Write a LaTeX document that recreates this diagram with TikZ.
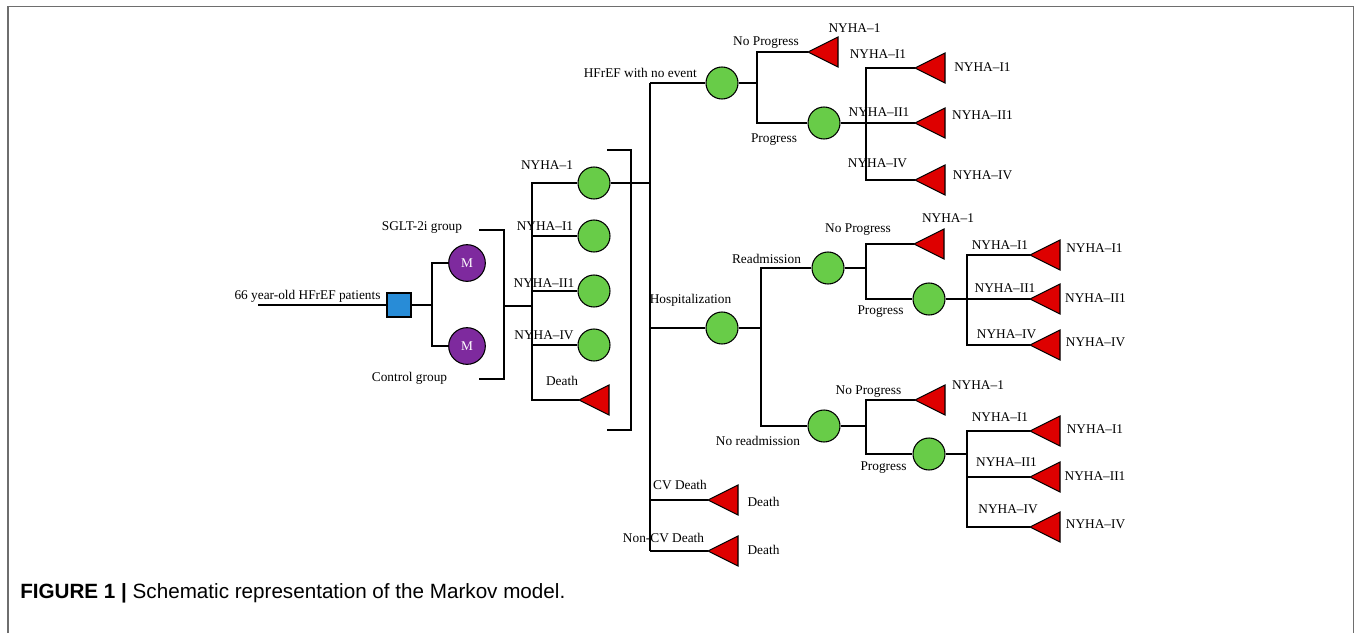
\documentclass[tikz,border=0pt]{standalone}
\usepackage{fontspec}
\usepackage{graphicx}
\setmainfont{Liberation Serif}
\newfontfamily\capfont{Liberation Sans}
\definecolor{nodegreen}{RGB}{104,204,72}
\definecolor{termred}{RGB}{222,0,0}
\definecolor{markovpurple}{RGB}{126,42,158}
\definecolor{decblue}{RGB}{40,140,215}
\definecolor{framegray}{RGB}{110,110,110}
\tikzset{
  conn/.style={draw=black, line width=0.9pt},
  chance/.style={circle, draw=black, line width=0.8pt, fill=nodegreen, minimum size=24pt, inner sep=0pt},
  markov/.style={circle, draw=black, line width=0.8pt, fill=markovpurple, minimum size=27.5pt, inner sep=0pt, text=white, font=\fontsize{10}{12}\selectfont},
  decision/.style={rectangle, draw=black, line width=0.8pt, fill=decblue, minimum size=18pt, inner sep=0pt},
  lbl/.style={inner sep=0pt, font=\fontsize{10}{12}\selectfont},
  termfill/.style={fill=termred, draw=black, line width=0.8pt, line join=miter},
}
% terminal node: a left-pointing triangle whose apex is the named coordinate
\newcommand\terminal[2]{%
  \coordinate (#1) at (#2);
  \path[termfill] (#1) -- ++(30,-15) -- ++(0,30) -- cycle;}
\begin{document}
\begin{tikzpicture}[x=0.75pt, y=-0.75pt]
\useasboundingbox (0,0) rectangle (1356,633);
% page frame
\draw[framegray, line width=1.1pt] (8,633) -- (8,6.5) -- (1353.5,6.5) -- (1353.5,633);

% ---- root and strategies
\coordinate (in) at (258,305);
\node[decision] (sq) at (399,305) {};
\node[lbl] (tpat) at (307.5,296) {66 year-old HFrEF patients};
\coordinate (j1) at (432,305);
\node[markov] (m1) at (467,263) {M};
\node[markov] (m2) at (467,346) {M};
\node[lbl] (tsglt) at (422,228) {SGLT-2i group};
\node[lbl] (tctrl) at (409.5,378) {Control group};
\draw[conn] (in) -- (sq.west);
\draw[conn] (sq.east) -- (j1) (j1) |- (m1.west) (j1) |- (m2.west);

% bracket joining both strategies to the health states
\coordinate (b1t) at (479,230);
\coordinate (b1b) at (479,379);
\coordinate (b1m) at (504,306);
\draw[conn] (b1t) -| (b1m) |- (b1b);
\coordinate (j2) at (532,306);
\draw[conn] (b1m) -- (j2);

% ---- health states
\node[chance] (c1) at (594,183) {};
\node[chance] (c2) at (594,236) {};
\node[chance] (c3) at (594,291) {};
\node[chance] (c4) at (594,345) {};
\terminal{tdeath}{579,400}
\draw[conn] (j2) |- (c1.west) (j2) |- (c2.west) (j2) |- (c3.west) (j2) |- (c4.west) (j2) |- (tdeath);
\node[lbl] at (547,165) {NYHA–1};
\node[lbl] at (545,226) {NYHA–I1};
\node[lbl] at (544,283) {NYHA–II1};
\node[lbl] at (544,335) {NYHA–IV};
\node[lbl] at (562,381) {Death};

% bracket round the health states
\coordinate (b2t) at (607,150);
\coordinate (b2b) at (607,430);
\draw[conn] (b2t) -| (631,290) |- (b2b);

% ---- main transition spine
\coordinate (mtop) at (650,83);
\coordinate (mj) at (650,183);
\coordinate (mhosp) at (650,328);
\coordinate (mncv) at (650,551);
\draw[conn] (c1.east) -- (mj);
\draw[conn] (mtop) -- (mncv);

% HFrEF with no event
\node[chance] (e1) at (722,83) {};
\node[lbl, anchor=east] at (697,73) {HFrEF with no event};
\draw[conn] (mtop) -- (e1.west);
\coordinate (e1j) at (757,83);
\terminal{tnp1}{808,52}
\node[chance] (e1p) at (824,123) {};
\draw[conn] (e1.east) -- (e1j) (e1j) |- (tnp1) (e1j) |- (e1p.west);
\node[lbl] at (766,43) {No Progress};
\node[lbl] at (854.5,28) {NYHA–1};
\node[lbl] at (774,140) {Progress};
\coordinate (e1pj) at (866,123);
\terminal{t2a}{915,68}
\terminal{t2b}{915,123}
\terminal{t2c}{915,180}
\draw[conn] (e1p.east) -- (t2b) (e1pj) |- (t2a) (e1pj) |- (t2c);
\node[lbl] at (878,54) {NYHA–I1};
\node[lbl] at (879,112) {NYHA–II1};
\node[lbl] at (877.5,163) {NYHA–IV};
\node[lbl] at (982.5,67) {NYHA–I1};
\node[lbl] at (982.5,115) {NYHA–II1};
\node[lbl] at (982.5,175) {NYHA–IV};

% Hospitalization
\node[chance] (h) at (722,328) {};
\node[lbl] at (690.5,300) {Hospitalization};
\draw[conn] (mhosp) -- (h.west);
\coordinate (hj) at (761,328);
\node[chance] (r) at (828,268) {};
\node[chance] (nr) at (824,426) {};
\draw[conn] (h.east) -- (hj) (hj) |- (r.west) (hj) |- (nr.west);
\node[lbl] at (766.5,259) {Readmission};
\node[lbl] at (758,441) {No readmission};

% readmission
\coordinate (rj) at (866,268);
\terminal{t3a}{914,244}
\node[chance] (rp) at (929,299) {};
\draw[conn] (r.east) -- (rj) (rj) |- (t3a) (rj) |- (rp.west);
\node[lbl] at (858,230) {No Progress};
\node[lbl] at (948,218) {NYHA–1};
\node[lbl] at (880.5,312) {Progress};
\coordinate (rpj) at (967,299);
\terminal{t3b}{1030,255}
\terminal{t3c}{1030,299}
\terminal{t3d}{1030,345}
\draw[conn] (rp.east) -- (t3c) (rpj) |- (t3b) (rpj) |- (t3d);
\node[lbl] at (1000,245) {NYHA–I1};
\node[lbl] at (1005,288) {NYHA–II1};
\node[lbl] at (1006.5,334) {NYHA–IV};
\node[lbl] at (1094.5,248) {NYHA–I1};
\node[lbl] at (1095.5,298) {NYHA–II1};
\node[lbl] at (1095.5,342) {NYHA–IV};

% no readmission
\coordinate (nrj) at (866,426);
\terminal{t4a}{915,400}
\node[chance] (nrp) at (929,454) {};
\draw[conn] (nr.east) -- (nrj) (nrj) |- (t4a) (nrj) |- (nrp.west);
\node[lbl] at (868.5,392) {No Progress};
\node[lbl] at (978,385) {NYHA–1};
\node[lbl] at (883.5,468) {Progress};
\coordinate (nrpj) at (967,454);
\terminal{t4b}{1030,431}
\terminal{t4c}{1030,477}
\terminal{t4d}{1030,527}
\draw[conn] (nrp.east) -- (nrpj) (nrpj) |- (t4b) (nrpj) |- (t4d) (nrpj |- t4c) -- (t4c);
\node[lbl] at (1000,417) {NYHA–I1};
\node[lbl] at (1006.5,462) {NYHA–II1};
\node[lbl] at (1008,509) {NYHA–IV};
\node[lbl] at (1095,429) {NYHA–I1};
\node[lbl] at (1095,476) {NYHA–II1};
\node[lbl] at (1095.5,524) {NYHA–IV};

% death branches
\terminal{tcv}{708,500}
\terminal{tncv}{708,551}
\draw[conn] (mtop |- tcv) -- (tcv) (mncv) -- (tncv);
\node[lbl] at (680,485) {CV Death};
\node[lbl] at (763.5,502) {Death};
\node[lbl] at (663.5,538) {Non-CV Death};
\node[lbl] at (763.5,550) {Death};

% caption
\node[anchor=west, inner sep=0pt] (caption) at (20,593)
  {\resizebox{408.75pt}{!}{\capfont\textbf{FIGURE 1 |} Schematic representation of the Markov model.}};
\end{tikzpicture}
\end{document}
